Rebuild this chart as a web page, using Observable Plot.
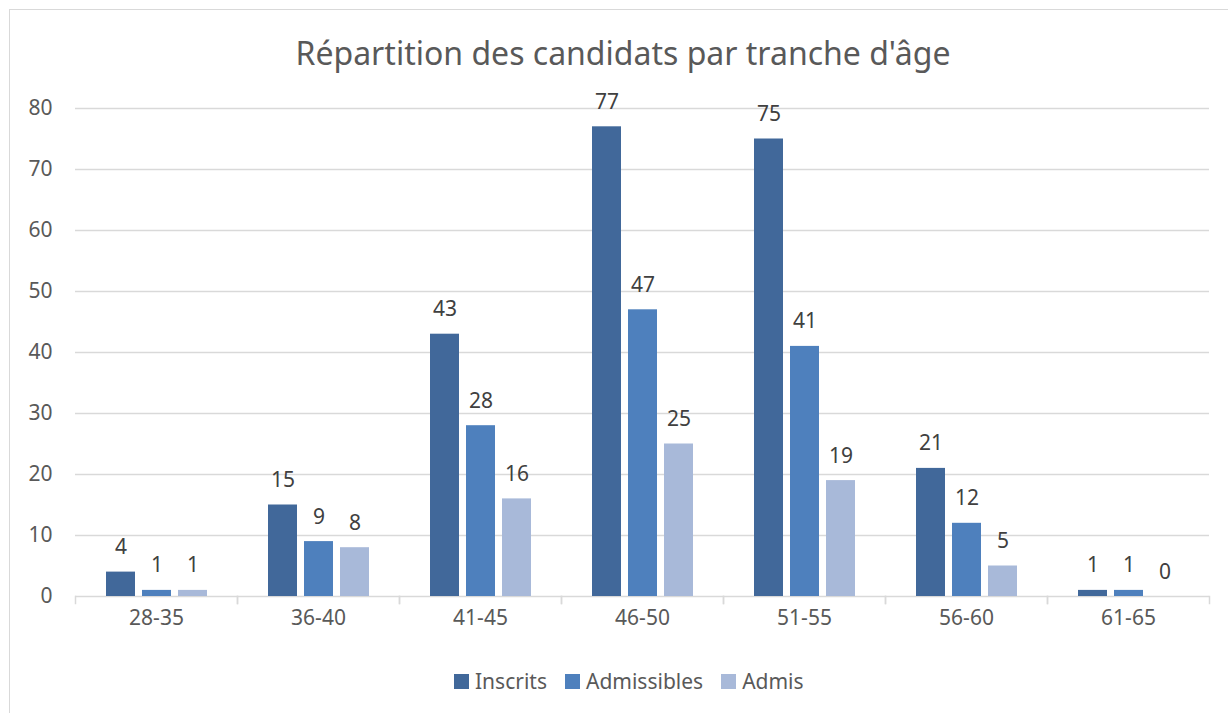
<!DOCTYPE html>
<html>
<head>
<meta charset="utf-8">
<script src="https://cdn.jsdelivr.net/npm/d3@7"></script>
<script src="https://cdn.jsdelivr.net/npm/@observablehq/plot@0.6"></script>
<style>
  html, body { margin: 0; padding: 0; background: #fff; }
  #wrap { position: relative; width: 1228px; height: 713px; overflow: hidden; font-family: "Noto Sans", sans-serif; }
  #border { position: absolute; left: 9px; top: 9px; width: 1260px; height: 760px; border: 1.5px solid #d9d9d9; box-sizing: border-box; }
  #title { position: absolute; left: 0; width: 1246px; top: 32px; text-align: center; font-size: 32px; line-height: 42px; color: #595959; }
  #chart { position: absolute; left: 0; top: 70px; }
  #legend { position: absolute; left: 454px; top: 667px; display: flex; gap: 18px; font-size: 21px; color: #595959; line-height: 28px; white-space: nowrap; }
  #legend .item { display: flex; align-items: center; gap: 6px; }
  #legend .sw { width: 15px; height: 15px; display: inline-block; }
</style>
</head>
<body>
<div id="wrap">
  <div id="border"></div>
  <div id="title">Répartition des candidats par tranche d'âge</div>
  <div id="chart"></div>
  <div id="legend"></div>
</div>
<script>
const categories = ["28-35", "36-40", "41-45", "46-50", "51-55", "56-60", "61-65"];
const seriesNames = ["Inscrits", "Admissibles", "Admis"];
const inscrits    = [4, 15, 43, 77, 75, 21, 1];
const admissibles = [1, 9, 28, 47, 41, 12, 1];
const admis       = [1, 8, 16, 25, 19, 5, 0];
const seriesColors = ["#41689a", "#4e80bd", "#a8b9d9"];
const yTicks = [0, 10, 20, 30, 40, 50, 60, 70, 80];

const seriesValues = [inscrits, admissibles, admis];
const rows = [];
categories.forEach((cat, i) => {
  seriesNames.forEach((s, j) => rows.push({cat, series: s, value: seriesValues[j][i]}));
});

const width = 1228, height = 567, marginTop = 38, marginBottom = 41, marginLeft = 73, marginRight = 18;
const innerH = height - marginTop - marginBottom;
const lineColor = "#d9d9d9";

const chart = Plot.plot({
  width, height, marginTop, marginBottom, marginLeft, marginRight,
  style: {fontFamily: "'Noto Sans', sans-serif", fontSize: "21px", color: "#595959", background: "transparent"},
  fx: {domain: categories, padding: 0, label: null, axis: null},
  x: {domain: seriesNames, paddingInner: 0.2, paddingOuter: 0.84, axis: null},
  y: {domain: [0, 80], label: null},
  color: {domain: seriesNames, range: seriesColors},
  marks: [
    Plot.gridY(yTicks.filter(t => t > 0), {stroke: lineColor, strokeOpacity: 1, strokeWidth: 1.3}),
    Plot.axisY(yTicks, {tickSize: 0, tickPadding: 23, label: null, fontSize: 21}),
    Plot.axisFx({anchor: "bottom", tickSize: 0, tickPadding: 14, label: null, fontSize: 21}),
    Plot.ruleY([0], {stroke: lineColor, strokeWidth: 1.5}),
    Plot.frame({anchor: "left", stroke: lineColor, strokeWidth: 1.5, insetTop: innerH, insetBottom: -7}),
    Plot.frame({anchor: "right", stroke: lineColor, strokeWidth: 1.5, insetTop: innerH, insetBottom: -7}),
    Plot.barY(rows, {fx: "cat", x: "series", y: "value", fill: "series"}),
    Plot.text(rows, {fx: "cat", x: "series", y: "value", text: d => String(d.value), lineAnchor: "bottom", dy: -18, fill: "#404040", fontSize: 21})
  ]
});
document.getElementById("chart").appendChild(chart);

const legend = document.getElementById("legend");
seriesNames.forEach((s, j) => {
  const item = document.createElement("div");
  item.className = "item";
  const sw = document.createElement("span");
  sw.className = "sw";
  sw.style.background = seriesColors[j];
  const lab = document.createElement("span");
  lab.textContent = s;
  item.appendChild(sw);
  item.appendChild(lab);
  legend.appendChild(item);
});
</script>
</body>
</html>
